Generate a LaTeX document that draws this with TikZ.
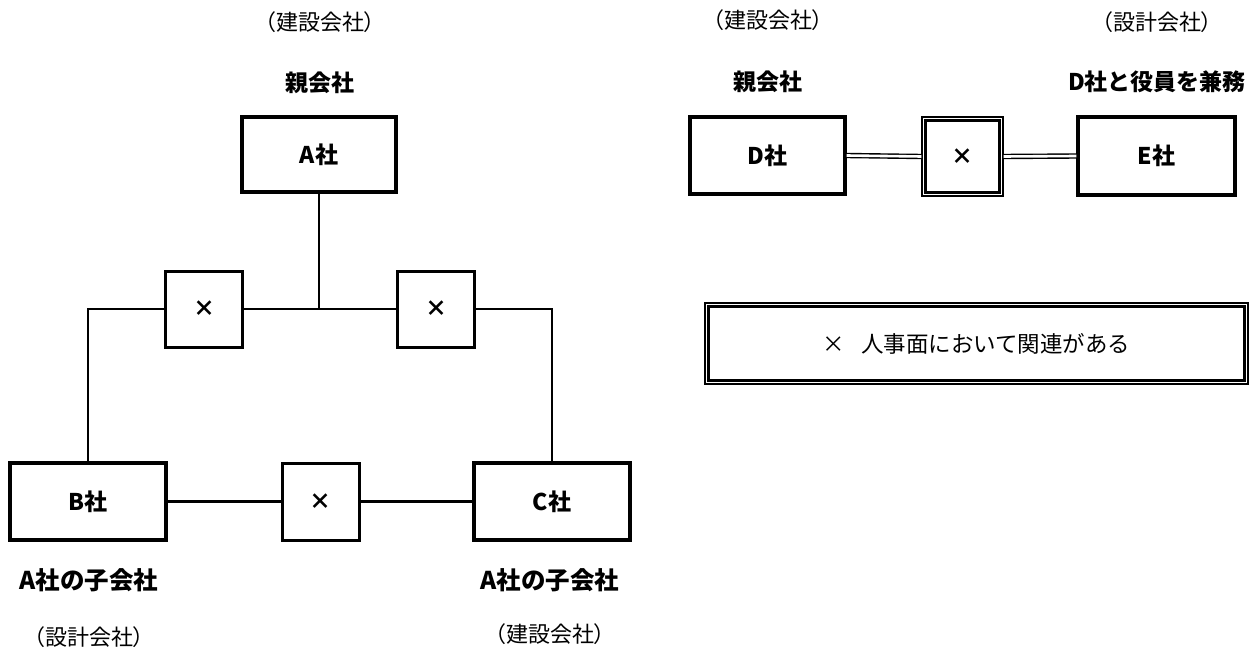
\documentclass[tikz,border=0pt]{standalone}
\usepackage{fontspec}
\newfontfamily\jp{Noto Sans CJK JP}
\newfontfamily\jpp[RawFeature=+palt]{Noto Sans CJK JP}
\begin{document}
\begin{tikzpicture}[x=1pt,y=-1pt,
  box/.style={draw,line width=3.2pt,inner sep=0pt,font=\jp\fontsize{23}{23}\selectfont\bfseries},
  xbox/.style={draw,line width=3pt,inner sep=0pt,minimum width=77pt,minimum height=76pt,font=\jp\fontsize{22}{22}\selectfont\bfseries},
  lbl/.style={inner sep=0pt,font=\jp\fontsize{23}{23}\selectfont\bfseries},
  plbl/.style={inner sep=0pt,font=\jpp\fontsize{22}{22}\selectfont},
  conn/.style={line width=2.8pt},
  dconn/.style={double,double distance=2.6pt,line width=1.4pt}]
\useasboundingbox (0,0) rectangle (1257,650);
% left diagram
\node[plbl] (tA1) at (320,22) {（建設会社）};
\node[lbl] (tA2) at (320,83) {親会社};
\node[box,minimum width=154pt,minimum height=75pt] (A) at (319,154.5) {A社};
\node[xbox] (x1) at (204,309) {×};
\node[xbox] (x2) at (436,309) {×};
\node[box,minimum width=156pt,minimum height=77pt] (B) at (88,501.5) {B社};
\node[box,minimum width=156pt,minimum height=77pt] (C) at (552,501.5) {C社};
\node[xbox,minimum height=77pt] (x3) at (320.5,501.5) {×};
\node[lbl,font=\jp\fontsize{24.5}{24}\selectfont\bfseries] (tB1) at (89,580) {A社の子会社};
\node[plbl] (tB2) at (89,637) {（設計会社）};
\node[lbl,font=\jp\fontsize{24.5}{24}\selectfont\bfseries] (tC1) at (550,580) {A社の子会社};
\node[plbl] (tC2) at (550,634) {（建設会社）};
\draw[conn] (x1.east) -- (x2.west);
\draw[conn] (A.south) -- (A.south |- x1.east);
\draw[conn] (x1.west) -| (B.north);
\draw[conn] (x2.east) -| (C.north);
\draw[conn] (B.east) -- (x3.west);
\draw[conn] (x3.east) -- (C.west);
% right diagram
\node[plbl] (tD1) at (768,20) {（建設会社）};
\node[lbl] (tD2) at (768,82) {親会社};
\node[plbl] (tE1) at (1157,22) {（設計会社）};
\node[lbl] (tE2) at (1157,82) {D社と役員を兼務};
\node[box,minimum width=155pt,minimum height=77pt] (D) at (767.5,155.5) {D社};
\node[box,minimum width=157pt,minimum height=78pt] (E) at (1156.5,156) {E社};
\node[draw,line width=1.2pt,inner sep=0pt,minimum width=81pt,minimum height=79pt,font=\jp\fontsize{22}{22}\selectfont\bfseries] (xr) at (962.5,156.5) {×};
\draw[line width=2.6pt] ([shift={(4,-4)}]xr.south west) rectangle ([shift={(-4,4)}]xr.north east);
\draw[dconn] (D.east) -- (xr.west);
\draw[dconn] (xr.east) -- (E.west);
% legend
\node[draw,line width=1.3pt,inner sep=0pt,minimum width=543pt,minimum height=81pt,font=\jp\fontsize{22.5}{22}\selectfont] (leg) at (976.5,343.5) {×\hspace{16pt}人事面において関連がある};
\draw[line width=2.5pt] ([shift={(4,-4)}]leg.south west) rectangle ([shift={(-4,4)}]leg.north east);
\end{tikzpicture}
\end{document}
